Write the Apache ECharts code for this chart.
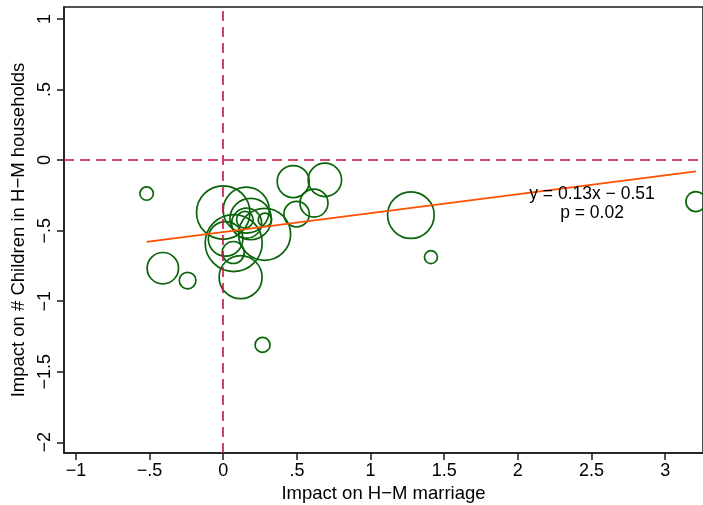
<!DOCTYPE html>
<html><head><meta charset="utf-8">
<script src="https://cdn.jsdelivr.net/npm/echarts@6/dist/echarts.min.js"></script>
<style>html,body{margin:0;padding:0;background:#fff}#c{width:703px;height:505px}</style>
</head><body><div id="c"></div>
<script>
// Impact on H-M marriage (x), impact on # children in H-M households (y), weights (bubble area)
const xVals = [-0.52, -0.41, -0.242, 0.267, 0.475, 0.69, 0.616, 0.498, 1.274, 1.41, 3.209,
               0.0, 0.156, 0.186, 0.159, 0.147, 0.283, 0.281, 0.071, 0.016, 0.068, 0.118];
const yVals = [-0.237, -0.766, -0.854, -1.31, -0.152, -0.14, -0.305, -0.383, -0.39, -0.688, -0.294,
               -0.372, -0.355, -0.418, -0.447, -0.423, -0.423, -0.526, -0.588, -0.558, -0.655, -0.83];
const weights = [45, 246, 69, 56, 256, 279, 196, 161, 543, 42, 100,
                 713, 529, 428, 225, 69, 45, 676, 812, 299, 121, 462];
const xTicks = [-1, -0.5, 0, 0.5, 1, 1.5, 2, 2.5, 3];
const yTicks = [-2, -1.5, -1, -0.5, 0, 0.5, 1];
const fitSlope = 0.134;
const fitIntercept = -0.51;
const fitLabel = ['y = 0.13x \u2212 0.51', 'p = 0.02'];
const xTitle = 'Impact on H\u2212M marriage';
const yTitle = 'Impact on # Children in H\u2212M households';

const FONT = '"Liberation Sans", Arial, Helvetica, sans-serif';
function stataFmt(v) {
  let s = String(Math.abs(v));
  if (s.startsWith('0.')) s = s.slice(1);
  return (v < 0 ? '\u2212' : '') + s;
}
const pts = xVals.map((x, i) => [x, yVals[i], weights[i]]);
const xMinD = Math.min(...xVals), xMaxD = Math.max(...xVals);
const fitLine = [[xMinD, fitIntercept + fitSlope * xMinD], [xMaxD, fitIntercept + fitSlope * xMaxD]];

const chart = echarts.init(document.getElementById('c'), null, {renderer: 'canvas'});
const axisCol = '#1a1a1a';
chart.setOption({
  animation: false,
  backgroundColor: '#fff',
  grid: {left: 64, right: 0, top: 7, bottom: 52, outerBoundsMode: 'none', containLabel: false,
         show: true, borderColor: axisCol, borderWidth: 1.5, backgroundColor: 'transparent'},
  xAxis: {
    type: 'value', min: -1.081, max: 3.257,
    axisLine: {show: true, onZero: false, lineStyle: {color: axisCol, width: 1.5}},
    axisTick: {show: true, length: 7, customValues: xTicks, lineStyle: {color: axisCol, width: 1.5}},
    axisLabel: {customValues: xTicks, formatter: stataFmt, color: '#000', fontSize: 18, fontFamily: FONT, margin: 9},
    splitLine: {show: false},
    name: xTitle, nameLocation: 'middle', nameGap: 29,
    nameTextStyle: {color: '#000', fontSize: 18.5, fontFamily: FONT}
  },
  yAxis: {
    type: 'value', min: -2.076, max: 1.085,
    axisLine: {show: true, onZero: false, lineStyle: {color: axisCol, width: 1.5}},
    axisTick: {show: true, length: 7, customValues: yTicks, lineStyle: {color: axisCol, width: 1.5}},
    axisLabel: {customValues: yTicks, formatter: stataFmt, color: '#000', fontSize: 18, fontFamily: FONT, rotate: 90, margin: 10},
    splitLine: {show: false},
    name: yTitle, nameLocation: 'middle', nameGap: 35, nameRotate: 90,
    nameTextStyle: {color: '#000', fontSize: 18.5, fontFamily: FONT}
  },
  series: [
    {
      type: 'scatter', data: pts, z: 2,
      symbol: 'circle',
      symbolSize: d => 2 * Math.sqrt(d[2]),
      itemStyle: {color: 'rgba(0,0,0,0)', borderColor: '#0a640a', borderWidth: 1.7, opacity: 1},
      silent: true
    },
    {
      type: 'line', data: fitLine, z: 4, symbol: 'none',
      lineStyle: {color: '#ff5000', width: 1.7, opacity: 1}, silent: true
    },
    {
      type: 'line', data: [], z: 5, symbol: 'none',
      markLine: {
        silent: true, symbol: 'none', label: {show: false},
        lineStyle: {color: '#c8103f', width: 1.6, type: [10, 6], opacity: 1},
        data: [{xAxis: 0}, {yAxis: 0}]
      }
    }
  ],
  graphic: [
    {type: 'text', x: 592, y: 194, z: 10,
     style: {text: fitLabel[0], fill: '#000', font: '17.5px ' + FONT, textAlign: 'center', textVerticalAlign: 'middle'}},
    {type: 'text', x: 592, y: 213, z: 10,
     style: {text: fitLabel[1], fill: '#000', font: '17.5px ' + FONT, textAlign: 'center', textVerticalAlign: 'middle'}}
  ]
});
</script>
</body></html>
